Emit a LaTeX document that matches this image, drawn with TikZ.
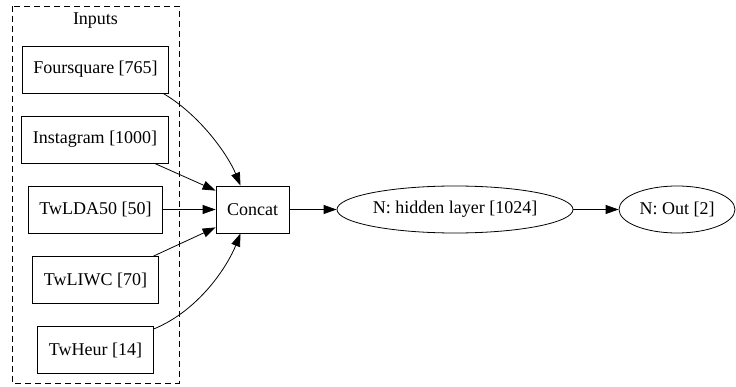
\documentclass[tikz,border=0pt]{standalone}
\usepackage{fontspec}
\setmainfont{Liberation Serif}
\usetikzlibrary{arrows.meta, shapes.geometric}

\begin{document}
\begin{tikzpicture}[x=1pt, y=-1pt,
    every node/.style={font=\fontsize{18}{22}\selectfont},
    inbox/.style={draw, thick, inner xsep=11pt, minimum height=47pt},
    layer/.style={draw, thick, ellipse, inner sep=0pt, minimum height=47pt},
    edge/.style={-{Triangle[length=13pt, width=9pt]}, thick}]
\useasboundingbox (0, 0) rectangle (736, 387);
\draw [dashed, thick, dash pattern=on 6pt off 4pt](12, 6) rectangle (179, 383);
\node (inputs) at (95.5, 21) {Inputs};
\node [inbox](fsq) at (95.5, 69.5) {Foursquare [765]};
\node [inbox](insta) at (95, 139.5) {Instagram [1000]};
\node [inbox](lda) at (95.5, 209.5) {TwLDA50 [50]};
\node [inbox](liwc) at (95.5, 280) {TwLIWC [70]};
\node [inbox](heur) at (95.5, 350) {TwHeur [14]};
\node [inbox](concat) at (252.5, 209.5) {Concat};
\node [layer, minimum width=236pt](hidden) at (455, 209.5) {N: hidden layer [1024]};
\node [layer, minimum width=116pt](out) at (677, 209.5) {N: Out [2]};
% inputs into concat
\draw [edge]([xshift=-6pt]fsq.south east) .. controls (200, 115) and (228, 155) .. ([xshift=-12pt]concat.north);
\draw [edge]([xshift=-14pt]insta.south east) -- ([yshift=-5pt]concat.north west);
\draw [edge](lda.east) -- (concat.west);
\draw [edge]([xshift=-5pt]liwc.north east) -- ([yshift=6pt]concat.south west);
\draw [edge]([yshift=-3pt]heur.north east) .. controls (200, 310) and (228, 265) .. ([xshift=-12pt]concat.south);
% network
\draw [edge](concat.east) -- (hidden.west);
\draw [edge](hidden.east) -- (out.west);
\end{tikzpicture}
\end{document}
